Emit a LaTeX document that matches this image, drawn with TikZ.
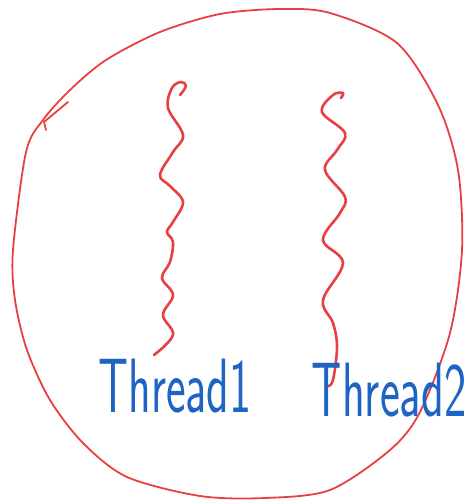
\documentclass[tikz,border=0pt]{standalone}
\usepackage{tikz}
\definecolor{inkred}{RGB}{232,64,64}
\definecolor{inkblue}{RGB}{30,100,196}

\begin{document}
\begin{tikzpicture}[x=1pt, y=-1pt,
    procline/.style={draw=inkred, line width=1.8pt, line cap=round, line join=round},
    threadwave/.style={draw=inkred, line width=2.6pt, line cap=round, line join=round},
    threadname/.style={text=inkblue, font=\sffamily\fontsize{55}{55}\selectfont, inner sep=0pt}
]
\useasboundingbox (0,0) rectangle (469,503);

% process boundary
\draw[procline] plot[smooth cycle, tension=0.5] coordinates {
    (43,120) (26,152) (13,250) (15,300) (27,350) (50,400) (83,443)
    (127,477) (200,496) (265,498) (330,490) (390,450) (420,412)
    (450,333) (462,250) (458,170) (438,105) (397,43) (330,13)
    (280,9) (220,14) (160,32) (106,60) (70,90)};
\draw[procline] (68,102) -- (44,122) -- (46,130);

% threads
\draw[threadwave] plot[smooth, tension=0.6] coordinates {
    (180,95) (186,86) (181,82) (172,88) (168,108) (183,135) (173,152)
    (160,175) (170,186) (183,202) (173,222) (167,232) (173,242) (170,262)
    (162,278) (173,295) (163,315) (173,335) (154,355)};
\draw[threadwave] plot[smooth, tension=0.6] coordinates {
    (341,98) (343,93) (333,95) (322,112) (345,133) (337,150) (325,170)
    (345,197) (340,213) (323,240) (343,263) (323,300) (333,323)
    (337,347) (333,380) (328,386)};

% labels
\node[threadname] (thread1) at (175,386) {\scalebox{0.85}[1.4]{Thread1}};
\node[threadname] (thread2) at (389,390) {\scalebox{0.86}[1.4]{Thread2}};

\end{tikzpicture}
\end{document}
